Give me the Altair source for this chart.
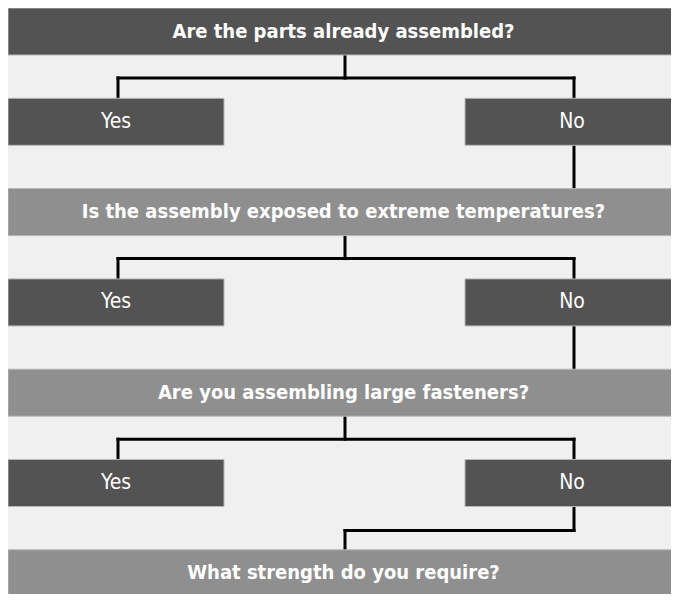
import altair as alt
import pandas as pd

# ---- content -------------------------------------------------------------
questions = [
    "Are the parts already assembled?",
    "Is the assembly exposed to extreme temperatures?",
    "Are you assembling large fasteners?",
    "What strength do you require?",
]
question_shades = ["dark", "light", "light", "light"]
answers = ["Yes", "No"]
answered_questions = 3  # the first three questions have Yes / No branches

# ---- layout (pixel units of the reference) --------------------------------
ROW = 90.3
TOP = 8
BOX_H = 47
LEFT, RIGHT = 8, 679
MID = 345
ANSWER_X = {"Yes": (8, 224), "No": (465, 679)}
ANSWER_CX = {"Yes": 118, "No": 574}
W, H = 663, 586
FONT = "DejaVu Sans Condensed, Roboto Condensed, Liberation Sans Narrow, Roboto, sans-serif"

boxes, texts, segs = [], [], []
for i, (q, shade) in enumerate(zip(questions, question_shades)):
    y0 = TOP + ROW * (2 * i)
    boxes.append(dict(x=LEFT, x2=RIGHT, y=y0, y2=y0 + BOX_H, shade=shade))
    texts.append(dict(x=(LEFT + RIGHT) / 2, y=y0 + BOX_H / 2, label=q, kind="q"))

for i in range(answered_questions):
    q0 = TOP + ROW * (2 * i)
    a0 = TOP + ROW * (2 * i + 1)
    for a in answers:
        xa, xb = ANSWER_X[a]
        boxes.append(dict(x=xa, x2=xb, y=a0, y2=a0 + BOX_H, shade="dark"))
        texts.append(dict(x=(xa + xb) / 2, y=a0 + BOX_H / 2, label=a, kind="a"))
    ymid = q0 + 70
    segs.append(dict(x=MID, x2=MID, y=q0 + BOX_H, y2=ymid))
    segs.append(dict(x=ANSWER_CX["Yes"], x2=ANSWER_CX["No"], y=ymid, y2=ymid))
    segs.append(dict(x=ANSWER_CX["Yes"], x2=ANSWER_CX["Yes"], y=ymid, y2=a0))
    segs.append(dict(x=ANSWER_CX["No"], x2=ANSWER_CX["No"], y=ymid, y2=a0))
    nq = TOP + ROW * (2 * i + 2)
    if i < answered_questions - 1:
        segs.append(dict(x=ANSWER_CX["No"], x2=ANSWER_CX["No"], y=a0 + BOX_H, y2=nq))
    else:
        jy = a0 + BOX_H + 24
        segs.append(dict(x=ANSWER_CX["No"], x2=ANSWER_CX["No"], y=a0 + BOX_H, y2=jy))
        segs.append(dict(x=MID, x2=ANSWER_CX["No"], y=jy, y2=jy))
        segs.append(dict(x=MID, x2=MID, y=jy, y2=nq))
        segs.append(dict(x=MID, x2=MID, y=nq + BOX_H, y2=TOP + H))

boxes_df = pd.DataFrame(boxes)
texts_df = pd.DataFrame(texts)
segs_df = pd.DataFrame(segs)

xs = alt.Scale(domain=[LEFT, LEFT + W])
ys = alt.Scale(domain=[TOP, TOP + H], reverse=True)
X = lambda f: alt.X(f, type="quantitative", scale=xs, axis=None)
Y = lambda f: alt.Y(f, type="quantitative", scale=ys, axis=None)

lines = alt.Chart(segs_df).mark_rule(color="black", strokeWidth=3, strokeCap="square").encode(
    x=X("x"), x2="x2", y=Y("y"), y2="y2"
)

rects = alt.Chart(boxes_df).mark_rect(stroke="#b8b8b8", strokeWidth=1, clip=True).encode(
    x=X("x"), x2="x2", y=Y("y"), y2="y2",
    fill=alt.Fill("shade:N", scale=alt.Scale(domain=["dark", "light"], range=["#535353", "#8f8f8f"]), legend=None),
)

qtext = alt.Chart(texts_df).transform_filter(alt.datum.kind == "q").mark_text(
    font=FONT, fontSize=20, fontWeight="bold", color="white", baseline="middle", align="center"
).encode(x=X("x"), y=Y("y"), text="label:N")

atext = alt.Chart(texts_df).transform_filter(alt.datum.kind == "a").mark_text(
    font=FONT, fontSize=21, color="white", baseline="middle", align="center"
).encode(x=X("x"), y=Y("y"), text="label:N")

chart = alt.layer(lines, rects, qtext, atext).properties(
    width=W, height=H, padding=0, autosize="none", background="#f0f0f0"
).configure_view(stroke=None)

chart.save("out.html", embed_options={"renderer": "svg", "actions": False})
